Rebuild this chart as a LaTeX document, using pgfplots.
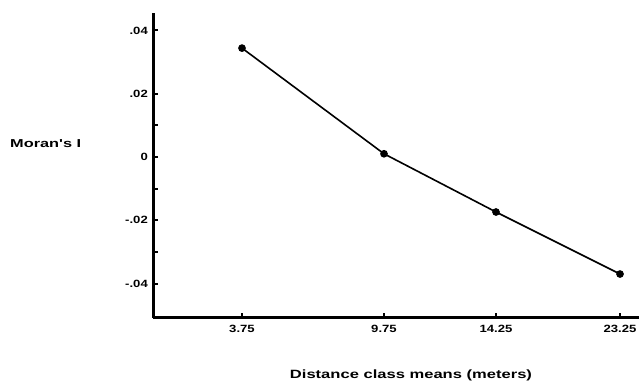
\documentclass[border=0pt]{standalone}
\usepackage{fontspec}
\setmainfont{Liberation Sans}[FakeStretch=1.25]
\newfontfamily\labelfont{Liberation Sans}[FakeStretch=1.38]
\newfontfamily\ylabelfont{Liberation Sans}[FakeStretch=1.42]
\usepackage{pgfplots}
\pgfplotsset{compat=1.18}
\begin{document}
\begin{tikzpicture}
\useasboundingbox (0,0) rectangle (639bp,384bp);
\fill[white] (0,0) rectangle (639bp,384bp);
\begin{axis}[
  at={(153bp,66bp)}, anchor=south west,
  scale only axis, width=486bp, height=305bp,
  xmin=0, xmax=486, ymin=-0.0509, ymax=0.0455,
  scaled y ticks=false, scaled x ticks=false,
  axis x line=bottom, axis y line=left,
  x axis line style={line width=3bp, -},
  y axis line style={line width=3bp, -},
  tick align=inside,
  major tick length=5bp,
  xtick={89,231,343,467},
  xticklabels={3.75,9.75,14.25,23.25},
  ytick={-0.04,-0.03,-0.02,-0.01,0,0.01,0.02,0.04},
  yticklabels={-.04,,-.02,,0,,.02,.04},
  tick style={line width=2bp, black},
  /pgf/number format/assume math mode=true,
  ticklabel style={font=\bfseries\fontsize{10.5bp}{12bp}\selectfont, inner sep=0pt},
  yticklabel style={anchor=east, xshift=-5bp},
  xticklabel style={anchor=north, yshift=-7bp},
  clip=false,
]
\addplot[black, line width=1.6bp, mark=*, mark size=3bp, mark options={solid, fill=black}]
  coordinates {(89,0.0344) (231,0.0010) (343,-0.0174) (467,-0.0370)};
\end{axis}
\node[anchor=west, inner sep=0pt, font=\ylabelfont\bfseries\fontsize{11.5bp}{13bp}\selectfont] at (10bp,240bp) {Moran's I};
\node[inner sep=0pt, font=\labelfont\bfseries\fontsize{12bp}{14bp}\selectfont] at (411bp,9bp) {Distance class means (meters)};
\end{tikzpicture}
\end{document}
